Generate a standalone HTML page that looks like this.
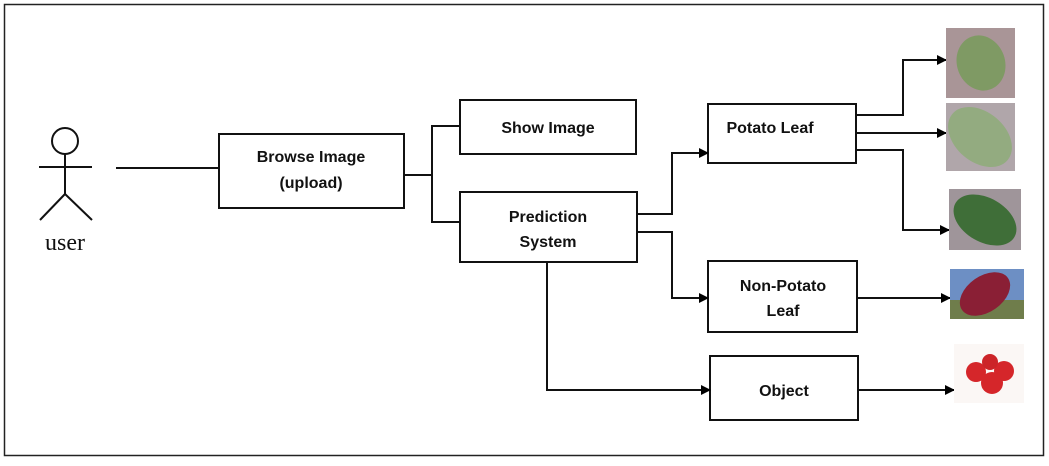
<!DOCTYPE html>
<html><head><style>
body{margin:0;background:#fff;}
svg text{font-family:"Liberation Sans",sans-serif;font-weight:bold;font-size:16px;fill:#111;}
</style></head><body>
<svg width="1049" height="461" viewBox="0 0 1049 461" xmlns="http://www.w3.org/2000/svg">
<defs><marker id="a" markerWidth="10" markerHeight="10" refX="9" refY="5" orient="auto" markerUnits="userSpaceOnUse"><path d="M0,0 L10,5 L0,10 z" fill="#000"/></marker></defs>
<rect x="4.5" y="4.5" width="1039" height="451" fill="#fff" stroke="#222" stroke-width="1.5"/>
<g stroke="#111" stroke-width="2" fill="none">
<circle cx="65" cy="141" r="13"/>
<line x1="65" y1="154" x2="65" y2="194"/>
<line x1="39" y1="167" x2="92" y2="167"/>
<line x1="65" y1="194" x2="40" y2="220"/>
<line x1="65" y1="194" x2="92" y2="220"/>
<line x1="116" y1="168" x2="219" y2="168"/>
<rect x="219" y="134" width="185" height="74"/>
<rect x="460" y="100" width="176" height="54"/>
<rect x="460" y="192" width="177" height="70"/>
<rect x="708" y="104" width="148" height="59"/>
<rect x="708" y="261" width="149" height="71"/>
<rect x="710" y="356" width="148" height="64"/>
<polyline points="404,175 432,175"/>
<polyline points="460,126 432,126 432,222 460,222"/>
<polyline points="637,214 672,214 672,153 708,153" marker-end="url(#a)"/>
<polyline points="637,232 672,232 672,298 708,298" marker-end="url(#a)"/>
<polyline points="547,262 547,390 710,390" marker-end="url(#a)"/>
<polyline points="856,115 903,115 903,60 946,60" marker-end="url(#a)"/>
<polyline points="856,133 946,133" marker-end="url(#a)"/>
<polyline points="856,150 903,150 903,230 949,230" marker-end="url(#a)"/>
<polyline points="857,298 950,298" marker-end="url(#a)"/>
<polyline points="858,390 954,390" marker-end="url(#a)"/>
</g>
<text x="65" y="250" text-anchor="middle" style="font-family:'Liberation Serif',serif;font-weight:normal;font-size:24px">user</text>
<text x="311" y="162" text-anchor="middle">Browse Image</text>
<text x="311" y="188" text-anchor="middle">(upload)</text>
<text x="548" y="133" text-anchor="middle">Show Image</text>
<text x="548" y="222" text-anchor="middle">Prediction</text>
<text x="548" y="247" text-anchor="middle">System</text>
<text x="770" y="133" text-anchor="middle">Potato Leaf</text>
<text x="783" y="291" text-anchor="middle">Non-Potato</text>
<text x="783" y="316" text-anchor="middle">Leaf</text>
<text x="784" y="396" text-anchor="middle">Object</text>
<!-- images -->
<rect x="946" y="28" width="69" height="70" fill="#a99597"/>
<ellipse cx="981" cy="63" rx="24" ry="28" fill="#7f9a64" transform="rotate(-20 981 63)"/>
<rect x="946" y="103" width="69" height="68" fill="#b0a6aa"/>
<ellipse cx="980" cy="137" rx="36" ry="25" fill="#93ab80" transform="rotate(40 980 137)"/>
<rect x="949" y="189" width="72" height="61" fill="#9f959a"/>
<ellipse cx="985" cy="220" rx="34" ry="22" fill="#3f6e38" transform="rotate(30 985 220)"/>
<rect x="950" y="269" width="74" height="50" fill="#6d8fc4"/>
<rect x="950" y="300" width="74" height="19" fill="#6f7d4b"/>
<ellipse cx="985" cy="294" rx="28" ry="18" fill="#8a1f35" transform="rotate(-35 985 294)"/>
<rect x="954" y="344" width="70" height="59" fill="#fbf7f5"/>
<circle cx="976" cy="372" r="10" fill="#d5262a"/>
<circle cx="1004" cy="371" r="10" fill="#d5262a"/>
<circle cx="992" cy="383" r="11" fill="#d5262a"/>
<circle cx="990" cy="362" r="8" fill="#cc2428"/>
</svg>
</body></html>
